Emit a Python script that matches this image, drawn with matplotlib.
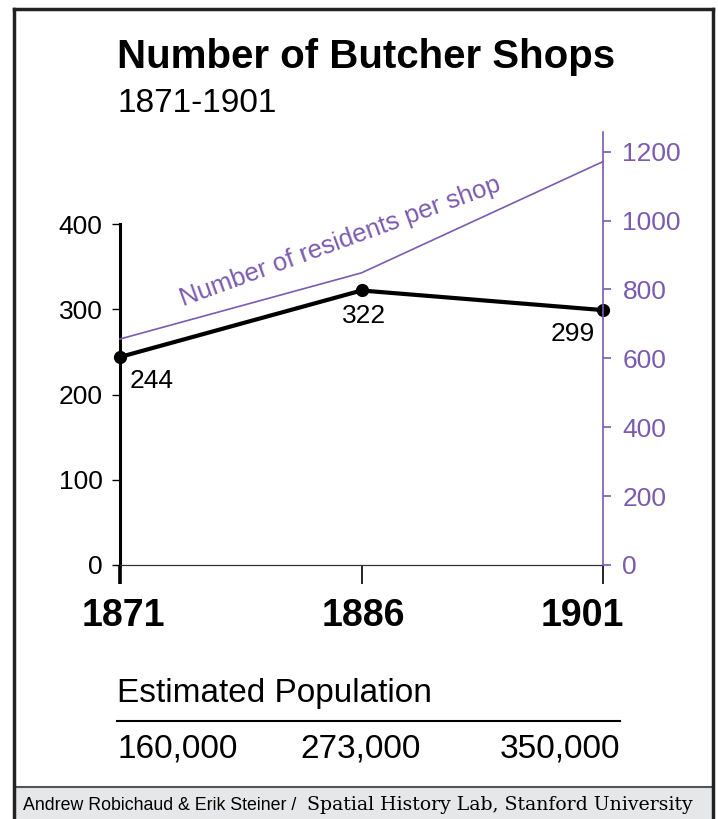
import matplotlib
matplotlib.use('Agg')
import matplotlib.pyplot as plt
from matplotlib.lines import Line2D
from matplotlib.patches import Rectangle

years = [1871, 1886, 1901]
shops = [244, 322, 299]
population = [160000, 273000, 350000]
residents_per_shop = [656, 848, 1171]
left_ticks = [0, 100, 200, 300, 400]
right_ticks = [0, 200, 400, 600, 800, 1000, 1200]

purple = '#7a5bb0'
plt.rcParams['font.family'] = ['Liberation Sans', 'DejaVu Sans']

W, H = 718, 819
fig = plt.figure(figsize=(W / 100, H / 100), dpi=100)


def fx(px):
    return px / W


def fy(py):
    return 1 - py / H


# axes box in pixels
ax_l, ax_r, ax_b, ax_t = 120, 603, 565, 132
ax = fig.add_axes([fx(ax_l), fy(ax_b), fx(ax_r - ax_l), (ax_b - ax_t) / H])
ax2 = ax.twinx()
ax.set_xlim(years[0], years[-1])
ax.set_ylim(0, (ax_b - ax_t) / 0.8525)
ax2.set_ylim(0, (ax_b - ax_t) / 0.3445)

# lines
ax2.plot(years, residents_per_shop, color=purple, lw=1.2, clip_on=False)
ax.plot(years, shops, color='black', lw=3, marker='o', ms=8.5, clip_on=False, zorder=5)

# spines
for s in ['top', 'right']:
    ax.spines[s].set_visible(False)
for s in ['top', 'left', 'bottom']:
    ax2.spines[s].set_visible(False)
ax.spines['left'].set_linewidth(2.2)
ax.spines['left'].set_bounds(0, 400)
ax.spines['bottom'].set_linewidth(0.9)
ax.spines['bottom'].set_color('#333333')
ax2.spines['right'].set_color(purple)
ax2.spines['right'].set_linewidth(1.2)

# ticks (lengths in points: 1px = 0.72pt)
ax.set_yticks(left_ticks)
ax.tick_params(axis='y', length=6, width=1, pad=6.5, labelsize=19)
ax2.set_yticks(right_ticks)
ax2.tick_params(axis='y', colors=purple, length=6, width=1.2, pad=8, labelsize=19)
ax.set_xticks(years)
ax.set_xticklabels([])
ax.tick_params(axis='x', length=14, width=1.2)
ax.xaxis.get_major_ticks()[0].tick1line.set_markeredgewidth(2.6)

for yr, off in zip(years, [3, 2, -21]):
    ax.annotate(str(yr), xy=(yr, 0), xycoords=('data', 'axes fraction'),
                xytext=(off, -33), textcoords='offset pixels',
                ha='center', va='top', fontsize=27, fontweight='bold')

# value labels
label_pos = [((10, -12), 'left'), ((3, -14), 'center'), ((-8, -12), 'right')]
for yr, v, (off, ha) in zip(years, shops, label_pos):
    ax.annotate(str(v), xy=(yr, v), xytext=off, textcoords='offset pixels',
                ha=ha, va='top', fontsize=19)

ax2.text(1884.66, 939, 'Number of residents per shop', rotation=20,
         rotation_mode='anchor', ha='center', va='center', color=purple, fontsize=18.5)

# titles
fig.text(fx(117), fy(68), 'Number of Butcher Shops', fontsize=29,
         fontweight='bold', va='baseline')
fig.text(fx(117), fy(112), '1871-1901', fontsize=24, va='baseline')

# population block
fig.text(fx(117), fy(702), 'Estimated Population', fontsize=24, va='baseline')
fig.add_artist(Line2D([fx(117), fx(620)], [fy(721)] * 2, color='black', lw=1.5))
for p, x, ha in zip(population, [117, 361, 620], ['left', 'center', 'right']):
    fig.text(fx(x), fy(758), f'{p:,}', fontsize=24, ha=ha, va='baseline')

# footer band and frame
fig.add_artist(Rectangle((fx(14), 0), fx(713 - 14), (819 - 787) / H,
                         facecolor='#e6e7e8', edgecolor='none',
                         transform=fig.transFigure))
fig.add_artist(Line2D([fx(14), fx(713)], [fy(787)] * 2, color='#555555', lw=1.5))
frame = dict(color='#222222', lw=2.5, solid_capstyle='projecting')
fig.add_artist(Line2D([fx(14), fx(14)], [fy(9), 0], **frame))
fig.add_artist(Line2D([fx(14), fx(713)], [fy(9), fy(9)], **frame))
fig.add_artist(Line2D([fx(713), fx(713)], [fy(9), 0], **frame))

fig.text(fx(23), fy(810), 'Andrew Robichaud & Erik Steiner /', fontsize=12.8, va='baseline')
fig.text(fx(693), fy(810), 'Spatial History Lab, Stanford University',
         family='DejaVu Serif', fontsize=13.6, ha='right', va='baseline')

fig.savefig('out.png', dpi=100)
